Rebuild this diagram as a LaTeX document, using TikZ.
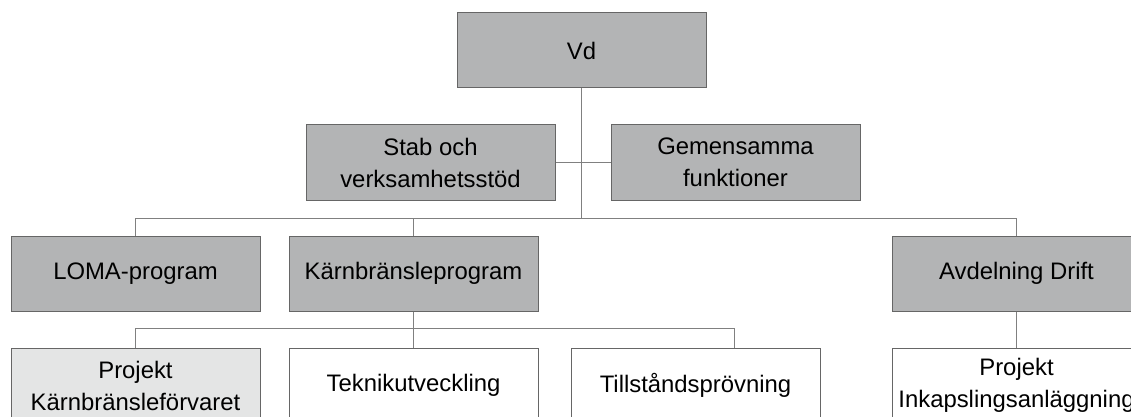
\documentclass[tikz,border=0pt]{standalone}
\usepackage{fontspec}
\setmainfont{Liberation Sans}
\definecolor{boxgray}{HTML}{B3B4B5}
\definecolor{lightbox}{HTML}{E4E5E5}
\definecolor{edgegray}{HTML}{666666}
\definecolor{linegray}{HTML}{808080}
\begin{document}
\begin{tikzpicture}[x=0.75pt,y=-0.75pt]
		  \tikzstyle{every node}=[font=\fontsize{17.9}{24}\selectfont,align=center]
		  \tikzstyle{unit}=[draw=edgegray,line width=0.75pt,fill=boxgray,minimum width=186.75pt,minimum height=56.25pt,inner sep=0pt]
		  \tikzstyle{project}=[unit,fill=white]
		  \tikzstyle{link}=[draw=linegray,line width=0.75pt]
		  \clip (0,0) rectangle (1131,417);
		  % ledning
		  \node[unit] (vd) at (581.5,50.5) {Vd};
		  \node[unit] (stab) at (430.5,162.5) {Stab och\\verksamhetsstöd};
		  \node[unit] (gem) at (735.5,162.5) {Gemensamma\\funktioner};
		  % program och avdelningar
		  \node[unit] (loma) at (135.5,273.5) {LOMA-program};
		  \node[unit] (karn) at (413.5,273.5) {Kärnbränsleprogram};
		  \node[unit] (drift) at (1016.5,273.5) {Avdelning Drift};
		  % projekt
		  \node[project,fill=lightbox] (forvar) at (135.5,385.5) {Projekt\\Kärnbränsleförvaret};
		  \node[project] (teknik) at (413.5,385.5) {Teknikutveckling};
		  \node[project] (tillst) at (695.5,385.5) {Tillståndsprövning};
		  \node[project] (inkaps) at (1016.5,385.5) {Projekt\\Inkapslingsanläggning};
		  \coordinate (bus) at (581.5,218.5);
		  \coordinate (subend) at (734,328);
		  % linjer
		  \draw[link] (vd.south) -- (bus);
		  \draw[link] (stab.east) -- (gem.west);
		  \draw[link] (loma.north) -- (loma |- bus) -- (drift |- bus) -- (drift.north);
		  \draw[link] (karn |- bus) -- (karn.north);
		  \draw[link] (karn.south) -- (teknik.north);
		  \draw[link] (forvar.north) -- (forvar |- subend) -- (subend) -- (subend |- tillst.north);
		  \draw[link] (drift.south) -- (inkaps.north);
		\end{tikzpicture}
\end{document}
